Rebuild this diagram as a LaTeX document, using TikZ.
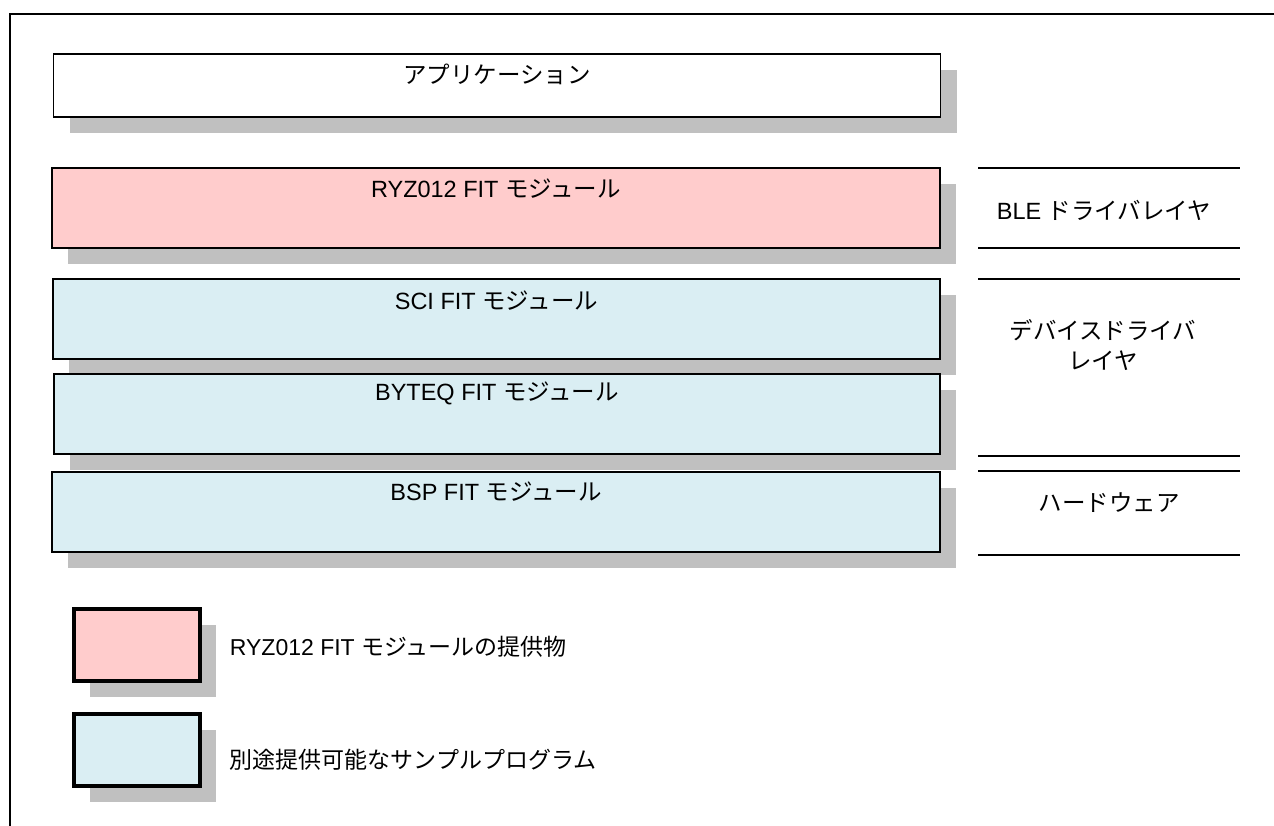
\documentclass[tikz,border=0pt]{standalone}
\usepackage{fontspec}
\setmainfont{Liberation Sans}
\newfontfamily\jpfont{Noto Sans CJK JP}
\newcommand{\jp}[1]{{\jpfont #1}}
\usetikzlibrary{
    shadows,
    positioning
}
\definecolor{fitpink}{HTML}{FFCCCC}
\definecolor{samplecyan}{HTML}{DAEEF3}
\definecolor{shadowgray}{HTML}{C0C0C0}
\tikzset {
    gray shadow/.style = {
        drop shadow={shadow xshift=16pt,shadow yshift=-16pt,fill=shadowgray,opacity=1}
    },
    layer box/.style = {
        draw, line width = 1.6pt, fill = white, gray shadow,
        minimum width = 887pt, minimum height = 80pt, inner sep = 0pt
    },
    key box/.style = {
        draw, line width = 3.5pt, gray shadow,
        minimum width = 126pt, minimum height = 72pt, inner sep = 0pt
    },
    label text/.style = {inner sep = 0pt, font = \fontsize{23.5}{30}\selectfont},
    key text/.style = {inner sep = 0pt, font = \fontsize{23}{28}\selectfont},
    frame line/.style = {line width = 2.4pt},
    rule line/.style = {line width = 1.4pt}
}

\begin{document}
\begin{tikzpicture}[x = 1pt, y = -1pt]
    \useasboundingbox (0, 0) rectangle (1274, 826);
    % outer frame
    \coordinate (frame top) at (1274, 14);
    \coordinate (frame corner) at (10, 14);
    \coordinate (frame bottom) at (10, 826);
    \draw [frame line] (frame top) -- (frame corner) -- (frame bottom);
    %
    \node (app) [layer box, minimum height = 63pt] at (497, 85.5) {};
    \node (ryz) [layer box, fill = fitpink, minimum width = 888pt] at (496, 208) {};
    \node (sci) [layer box, fill = samplecyan] at (496.5, 319) {};
    \node (byteq) [layer box, fill = samplecyan, minimum width = 886pt] at (497, 414) {};
    \node (bsp) [layer box, fill = samplecyan, minimum width = 888pt] at (496, 512) {};
    \node (app text) [label text] at ([yshift = -21pt] app.north) {\jp{アプリケーション}};
    \node (ryz text) [label text] at ([yshift = -21pt] ryz.north) {RYZ012 FIT \jp{モジュール}};
    \node (sci text) [label text] at ([yshift = -22pt] sci.north) {SCI FIT \jp{モジュール}};
    \node (byteq text) [label text] at ([yshift = -20pt] byteq.north) {BYTEQ FIT \jp{モジュール}};
    \node (bsp text) [label text] at ([yshift = -20pt] bsp.north) {BSP FIT \jp{モジュール}};
    % layer names
    \foreach \y in {168, 248, 279, 456, 471, 555}
        \draw [rule line] (978, \y) -- (1240, \y);
    \node (ble layer) [label text] at (1104, 210) {BLE \jp{ドライバレイヤ}};
    \node (dev layer) [label text, align = center] at (1103, 345) {\jp{デバイスドライバ}\\\jp{レイヤ}};
    \node (hw layer) [label text] at (1109, 503) {\jp{ハードウェア}};
    % legend
    \node (key fit) [key box, fill = fitpink] at (137, 645) {};
    \node (key sample) [key box, fill = samplecyan] at (137, 750) {};
    \node (key fit text) [key text, right = 28pt of key fit, yshift = -2pt] {RYZ012 FIT \jp{モジュールの提供物}};
    \node (key sample text) [key text, right = 28pt of key sample, yshift = -10pt] {\jp{別途提供可能なサンプルプログラム}};
\end{tikzpicture}
\end{document}
